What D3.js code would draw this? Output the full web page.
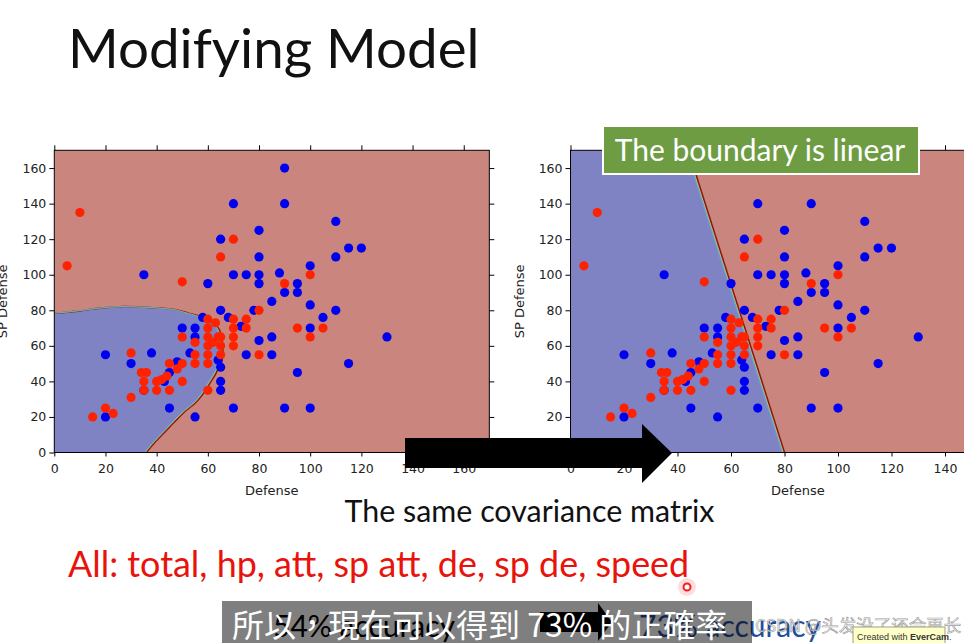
<!DOCTYPE html>
<html><head><meta charset="utf-8">
<script src="https://cdn.jsdelivr.net/npm/d3@7"></script>
<style>body{margin:0;background:#fff;overflow:hidden} svg{display:block}</style>
</head><body>
<svg id="c" width="964" height="643"></svg>
<script>
// ---------- data ----------
const blueX = [35,60,70,65,70,75,65,68,58,90,90,110,80,115,120,80,110,100,80,88,80,95,90,95,85,100,110,78,105,73,100,85,130,80,75,85,115,95,70,90,100,20,20,30,38,35,43,45,45,48,50,55,55,53,55,64,65,65,65];
const blueY = [100,95,140,120,100,100,80,76,76,160,140,130,125,115,115,110,110,105,100,101,95,95,90,90,85,83,80,80,76,71,70,65,65,63,55,55,50,45,25,25,25,20,55,50,56,35,40,25,45,51,70,70,65,56,20,52,48,40,35];
const redX = [5,10,50,70,65,60,70,75,90,100,80,70,75,95,105,70,100,70,80,63,15,20,23,30,30,34,36,35,35,40,42,44,40,45,45,48,50,50,50,55,55,55,60,60,60,62,60,60,65,65,65,64,60];
const redY = [105,135,96,120,110,75,75,75,95,100,80,70,70,70,70,65,65,60,55,73,20,25,22,56,31,45,45,40,35,40,41,43,35,35,50,47,40,50,65,62,55,50,70,65,60,62,50,35,65,60,55,65,55];
const xTicks = [0,20,40,60,80,100,120,140,160];
const yTicks = [0,20,40,60,80,100,120,140,160];
const axisMax = 170;
// quadratic (left) decision boundary
const quadBoundaryX = [0,5,11,18,27,34,41,48,52,56,59,62,64.5,65.4,65.8,65.8,65.4,64.1,62.8,60.8,58.3,55,51.7,47.5,43.5,39.5,36];
const quadBoundaryY = [78.4,78.9,79.9,81.2,82.1,81.8,81.3,80.2,78.6,77,75.5,73.7,69,64.3,59.6,55,51,47.4,43.6,39,33.3,27.7,23.9,18,12,6,0];
// linear (right) decision boundary
const linBoundaryX = [44,80];
const linBoundaryY = [170,0];
const xLabel = "Defense", yLabel = "SP Defense";

// ---------- layout ----------
const W = 964;
const svg = d3.select("#c");
const PINK = "#c9857e", BLUE_BG = "#7f83c4";
const PT_BLUE = "#0000f0", PT_RED = "#ff2200";
const y = d3.scaleLinear().domain([0, axisMax]).range([452.5, 150.3]);

function panel(id, x0, pxPerUnit, boundaryPoly, boundaryLine) {
  const x = d3.scaleLinear().domain([0, axisMax]).range([x0, x0 + axisMax * pxPerUnit]);
  const visTicks = xTicks.filter(v => x(v) < W - 8);
  const g = svg.append("g");
  const clipId = "clip" + id;
  g.append("clipPath").attr("id", clipId).append("rect")
    .attr("x", x(0)).attr("y", y(axisMax)).attr("width", x(axisMax) - x(0)).attr("height", y(0) - y(axisMax));
  const inner = g.append("g").attr("clip-path", `url(#${clipId})`);
  inner.append("rect").attr("x", x(0)).attr("y", y(axisMax)).attr("width", x(axisMax) - x(0)).attr("height", y(0) - y(axisMax)).attr("fill", PINK);
  inner.append("path").attr("d", d3.line().x(d => x(d[0])).y(d => y(d[1]))(boundaryPoly)).attr("fill", BLUE_BG);
  const ln = d3.line().x(d => x(d[0])).y(d => y(d[1])).curve(d3.curveCatmullRom);
  inner.append("path").attr("d", ln(boundaryLine)).attr("fill", "none").attr("stroke", "#8a1a0a").attr("stroke-width", 1.6);
  inner.append("path").attr("d", ln(boundaryLine.map(p => [p[0] - 0.5, p[1]]))).attr("fill", "none").attr("stroke", "#d8c060").attr("stroke-width", 0.8);
  inner.append("path").attr("d", ln(boundaryLine.map(p => [p[0] - 0.9, p[1]]))).attr("fill", "none").attr("stroke", "#40b8e0").attr("stroke-width", 0.8);
  // points
  inner.selectAll("circle.b").data(d3.range(blueX.length)).join("circle").attr("class", "b")
    .attr("cx", i => x(blueX[i])).attr("cy", i => y(blueY[i])).attr("r", 4.6).attr("fill", PT_BLUE);
  inner.selectAll("circle.r").data(d3.range(redX.length)).join("circle").attr("class", "r")
    .attr("cx", i => x(redX[i])).attr("cy", i => y(redY[i])).attr("r", 4.6).attr("fill", PT_RED);
  // frame
  g.append("rect").attr("x", x(0)).attr("y", y(axisMax)).attr("width", x(axisMax) - x(0)).attr("height", y(0) - y(axisMax))
    .attr("fill", "none").attr("stroke", "#000").attr("stroke-width", 1);
  const font = "DejaVu Sans, sans-serif";
  const ax = g.append("g").attr("transform", `translate(0,${y(0)})`)
    .call(d3.axisBottom(x).tickValues(visTicks).tickSize(4).tickPadding(8).tickSizeOuter(0));
  const ay = g.append("g").attr("transform", `translate(${x(0)},0)`)
    .call(d3.axisLeft(y).tickValues(yTicks).tickSize(5).tickPadding(3).tickSizeOuter(0));
  const at = g.append("g").attr("transform", `translate(0,${y(axisMax)})`)
    .call(d3.axisTop(x).tickValues(visTicks).tickSize(5).tickFormat("").tickSizeOuter(0));
  const ar = g.append("g").attr("transform", `translate(${x(axisMax)},0)`)
    .call(d3.axisRight(y).tickValues(yTicks).tickSize(5).tickFormat("").tickSizeOuter(0));
  [ax, ay, at, ar].forEach(a => {
    a.select(".domain").remove();
    a.selectAll("text").attr("font-family", font).attr("font-size", 12.5).attr("fill", "#222");
    a.selectAll("line").attr("stroke", "#000");
  });
  g.append("text").attr("x", (x(0) + x(axisMax)) / 2).attr("y", 495).attr("text-anchor", "middle")
    .attr("font-family", font).attr("font-size", 13).attr("fill", "#222").text(xLabel);
  g.append("text").attr("transform", `translate(${x(0) - 47},${(y(0) + y(axisMax)) / 2}) rotate(-90)`)
    .attr("text-anchor", "middle").attr("font-family", font).attr("font-size", 13).attr("fill", "#222").text(yLabel);
  return g;
}

const quadPoly = [[0, 0]].concat(quadBoundaryX.map((v, i) => [v, quadBoundaryY[i]]));
const quadLine = quadBoundaryX.map((v, i) => [v, quadBoundaryY[i]]);
panel("L", 54.3, 2.559, quadPoly, quadLine);
const linLine = linBoundaryX.map((v, i) => [v, linBoundaryY[i]]);
const linPoly = [[0, 0], [0, axisMax]].concat(linLine);
panel("R", 570.5, 2.675, linPoly, linLine);

// ---------- slide decorations ----------
const slideFont = "Lato, 'Open Sans', sans-serif";
svg.append("text").attr("x", 68).attr("y", 68).attr("font-family", slideFont).attr("font-size", 54.7)
  .attr("fill", "#111").text("Modifying Model");

// green callout
svg.append("rect").attr("x", 603).attr("y", 126).attr("width", 316).attr("height", 48)
  .attr("fill", "#6e9c42").attr("stroke", "#fff").attr("stroke-width", 2);
svg.append("text").attr("x", 760).attr("y", 161).attr("text-anchor", "middle").attr("font-family", slideFont)
  .attr("font-size", 30).attr("fill", "#fff").text("The boundary is linear");

// big arrow
svg.append("path").attr("d", "M405,438 L642,438 L642,424 L672,453 L642,483 L642,468 L405,468 Z").attr("fill", "#000");

svg.append("text").attr("x", 529.5).attr("y", 522).attr("text-anchor", "middle").attr("font-family", slideFont)
  .attr("font-size", 30.4).attr("fill", "#111").text("The same covariance matrix");
svg.append("text").attr("x", 68).attr("y", 577).attr("font-family", slideFont)
  .attr("font-size", 35.9).attr("fill", "#e8140c").text("All: total, hp, att, sp att, de, sp de, speed");

// cursor mark
svg.append("circle").attr("cx", 687).attr("cy", 587).attr("r", 9).attr("fill", "rgba(255,120,120,0.25)");
svg.append("circle").attr("cx", 687).attr("cy", 587).attr("r", 3.5).attr("fill", "#fff").attr("stroke", "#f02020").attr("stroke-width", 2);

// lower slide line (partially hidden)
svg.append("text").attr("x", 273).attr("y", 637).attr("font-family", slideFont).attr("font-size", 30).attr("fill", "#000").text("54% accuracy");
svg.append("path").attr("d", "M540,612 L598,612 L598,603 L612,622 L598,641 L598,632 L540,632 Z").attr("fill", "#000");
svg.append("text").attr("x", 639).attr("y", 637).attr("font-family", slideFont).attr("font-size", 30).attr("fill", "#1f4e9a").text("73% accuracy");

// subtitle
svg.append("rect").attr("x", 222).attr("y", 601).attr("width", 530).attr("height", 42).attr("fill", "rgba(0,0,0,0.5)");
svg.append("text").attr("x", 232).attr("y", 637).attr("font-family", "'Noto Sans CJK TC', sans-serif").attr("font-size", 32)
  .attr("fill", "#fff").text("所以，現在可以得到 73% 的正確率");

// watermark
svg.append("text").attr("x", 755).attr("y", 632).attr("font-family", "'Noto Sans CJK SC', sans-serif").attr("font-size", 17.5)
  .attr("fill", "rgba(235,235,235,0.85)").attr("stroke", "rgba(90,90,90,0.6)").attr("stroke-width", 0.6).text("CSDN @头发没了还会再长");

// EverCam badge
svg.append("rect").attr("x", 853).attr("y", 627).attr("width", 92).attr("height", 17).attr("fill", "#ffffc8").attr("stroke", "#a0a080");
const ev = svg.append("text").attr("x", 857).attr("y", 640).attr("font-family", "'Liberation Sans', sans-serif").attr("font-size", 9).attr("fill", "#333");
ev.append("tspan").text("Created with ");
ev.append("tspan").attr("font-weight", "bold").text("EverCam");
ev.append("tspan").text(".");
</script>
</body></html>
